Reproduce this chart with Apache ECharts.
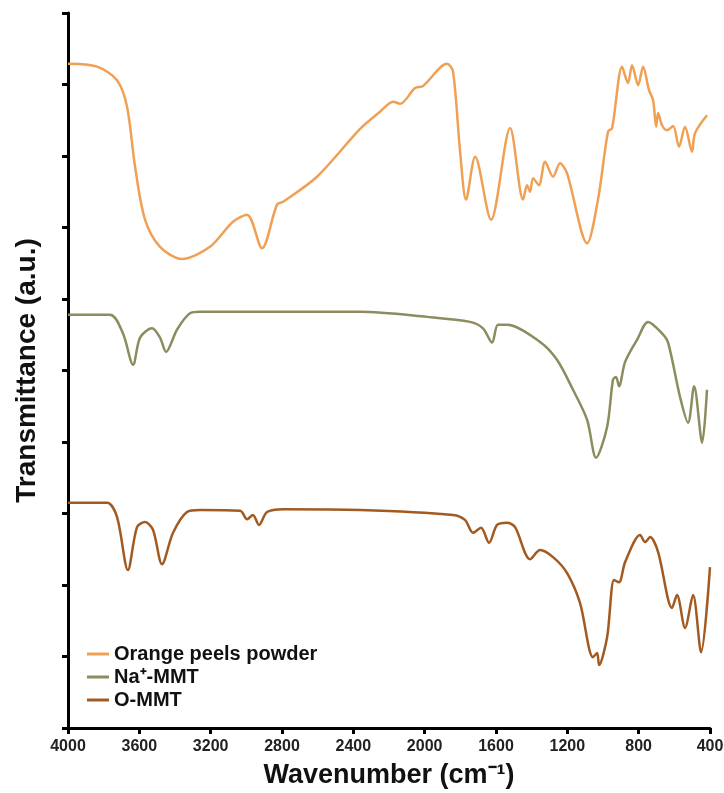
<!DOCTYPE html>
<html>
<head>
<meta charset="utf-8">
<script src="https://cdn.jsdelivr.net/npm/echarts@6/dist/echarts.min.js"></script>
<style>
  html, body { margin: 0; padding: 0; background: #fff; }
  #chart { width: 724px; height: 793px; }
</style>
</head>
<body>
<div id="chart"></div>
<script>
// FTIR spectra, values (wavenumber, transmittance a.u.)
var seriesNames = ['Orange peels powder', 'Na\u207A-MMT', 'O-MMT']
var xTicks = [4000, 3600, 3200, 2800, 2400, 2000, 1600, 1200, 800, 400]

var orangeWn = [4000, 3837, 3725, 3669, 3624, 3568, 3484, 3361, 3204, 3075, 2996, 2912, 2828, 2794, 2604, 2362, 2250, 2177, 2138, 2054, 2009, 1875, 1841, 1802, 1768, 1717, 1628, 1521, 1448, 1426, 1409, 1392, 1359, 1325, 1280, 1241, 1202, 1089, 1028, 972, 949, 893, 860, 837, 803, 775, 742, 719, 702, 691, 669, 641, 607, 574, 540, 501, 484, 417]
var orangeT = [9.29, 9.25, 9.06, 8.69, 7.85, 7.11, 6.73, 6.56, 6.73, 7.08, 7.18, 6.71, 7.32, 7.36, 7.71, 8.38, 8.62, 8.76, 8.73, 8.95, 8.98, 9.29, 9.18, 8.08, 7.39, 7.99, 7.11, 8.39, 7.39, 7.59, 7.50, 7.69, 7.59, 7.92, 7.71, 7.90, 7.76, 6.78, 7.39, 8.34, 8.39, 9.25, 9.02, 9.27, 8.99, 9.25, 8.92, 8.78, 8.41, 8.60, 8.43, 8.36, 8.42, 8.13, 8.41, 8.06, 8.32, 8.57]

var naWn = [4000, 3764, 3692, 3635, 3596, 3529, 3484, 3450, 3389, 3316, 3260, 2362, 1987, 1746, 1673, 1622, 1589, 1538, 1353, 1258, 1168, 1089, 1039, 977, 944, 927, 910, 876, 809, 747, 669, 635, 568, 523, 489, 444, 417]
var naT = [5.78, 5.78, 5.52, 5.08, 5.46, 5.59, 5.46, 5.26, 5.57, 5.80, 5.82, 5.82, 5.75, 5.68, 5.59, 5.39, 5.64, 5.64, 5.40, 5.15, 4.73, 4.31, 3.78, 4.21, 4.87, 4.91, 4.78, 5.12, 5.43, 5.68, 5.52, 5.39, 4.63, 4.27, 4.78, 3.99, 4.73]

var ommtWn = [4000, 3781, 3725, 3664, 3613, 3568, 3523, 3473, 3411, 3333, 3260, 3035, 2996, 2963, 2929, 2884, 2794, 2362, 1841, 1774, 1729, 1684, 1639, 1594, 1538, 1493, 1409, 1353, 1280, 1202, 1129, 1056, 1033, 1022, 977, 938, 910, 876, 792, 764, 736, 691, 613, 585, 540, 495, 450, 400]
var ommtT = [3.15, 3.15, 2.95, 2.21, 2.81, 2.88, 2.77, 2.29, 2.73, 3.02, 3.05, 3.04, 2.92, 2.98, 2.84, 3.02, 3.06, 3.05, 2.98, 2.91, 2.73, 2.80, 2.59, 2.84, 2.87, 2.81, 2.36, 2.49, 2.39, 2.17, 1.75, 0.99, 1.05, 0.88, 1.27, 2.07, 2.04, 2.32, 2.70, 2.60, 2.67, 2.46, 1.68, 1.86, 1.40, 1.86, 1.06, 2.25]

var colors = ['#F0A055', '#8C8C5E', '#A25A20']

function pairUp(xs, ys) {
  var out = []
  xs.forEach(function (x, i) { out.push([x, ys[i]]) })
  return out
}

function RenderChart() {
  var dom = document.getElementById('chart')
  var myChart = echarts.init(dom)
  var fontFam = 'Liberation Sans, Arial, sans-serif'
  var lists = [[orangeWn, orangeT], [naWn, naT], [ommtWn, ommtT]]
  var series = lists.map(function (l, i) {
    return {
      name: seriesNames[i],
      type: 'line',
      data: pairUp(l[0], l[1]),
      smooth: 0.3,
      showSymbol: false,
      lineStyle: { width: 2.5, color: colors[i] },
      itemStyle: { color: colors[i] }
    }
  })

  var option = {
    animation: false,
    grid: { left: 68, right: 14, top: 13, bottom: 65, outerBoundsMode: 'none', containLabel: false },
    legend: {
      orient: 'vertical',
      left: 82,
      top: 639,
      itemWidth: 22,
      itemHeight: 3,
      itemGap: 3,
      icon: 'rect',
      textStyle: { fontFamily: fontFam, fontWeight: 'bold', fontSize: 20, color: '#111' },
      data: seriesNames
    },
    xAxis: {
      type: 'value',
      inverse: true,
      min: 400,
      max: 4000,
      interval: 400,
      name: 'Wavenumber (cm\u207B\u00B9)',
      nameLocation: 'middle',
      nameGap: 34,
      nameTextStyle: { fontFamily: fontFam, fontWeight: 'bold', fontSize: 27, color: '#111' },
      axisLine: { lineStyle: { color: '#000', width: 3 } },
      axisTick: { length: 6, lineStyle: { color: '#000', width: 3 } },
      axisLabel: {
        fontFamily: fontFam, fontWeight: 'bold', fontSize: 16, color: '#222', margin: 11,
        formatter: function (v) { return xTicks.indexOf(v) >= 0 ? String(v) : '' }
      },
      splitLine: { show: false }
    },
    yAxis: {
      type: 'value',
      min: 0,
      max: 10,
      interval: 1,
      name: 'Transmittance (a.u.)',
      nameLocation: 'middle',
      nameGap: 27,
      nameTextStyle: { fontFamily: fontFam, fontWeight: 'bold', fontSize: 28, color: '#111' },
      axisLine: { show: true, lineStyle: { color: '#000', width: 3 } },
      axisTick: { show: true, length: 6, lineStyle: { color: '#000', width: 3 } },
      axisLabel: { show: false },
      splitLine: { show: false }
    },
    series: series
  }
  myChart.setOption(option)
}

window.onload = RenderChart
</script>
</body>
</html>
